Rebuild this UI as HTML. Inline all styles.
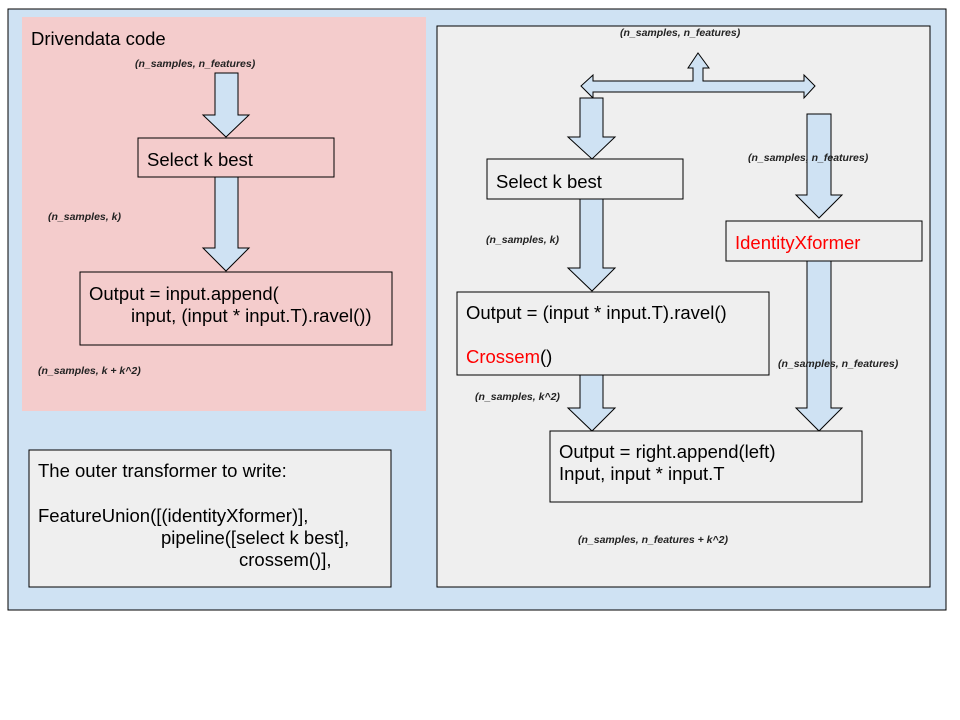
<!DOCTYPE html>
<html><head><style>body{margin:0;background:#fff}svg{display:block}text{font-family:"Liberation Sans",Arial,sans-serif}.s{font-size:10.5px;font-style:italic;font-weight:bold;fill:#222}.t{font-size:18.5px;fill:#000}</style></head><body>
<svg width="960" height="720" viewBox="0 0 960 720" xmlns="http://www.w3.org/2000/svg">
<rect x="8" y="9" width="938" height="601" fill="#cfe2f3" stroke="#000" stroke-width="1"/>
<rect x="22" y="17" width="404" height="394" fill="#f4cccc"/>
<rect x="437" y="26" width="493" height="561" fill="#efefef" stroke="#000"/>
<rect x="29" y="450" width="362" height="137" fill="#efefef" stroke="#000"/>
<g fill="#cfe2f3" stroke="#000" stroke-width="1">
<polygon points="215,73 238,73 238,115 249,115 226,137 203,115 215,115"/>
<polygon points="215,177 238,177 238,248 249,248 226,271 203,248 215,248"/>
<polygon points="693,81 693,68 688,68 698,53 709,68 703,68 703,81 804,81 804,75 815,86 804,98 804,92 593,92 593,98 581,86 593,75 593,81"/>
<polygon points="580,98 603,98 603,137 615,137 592,159 568,137 580,137"/>
<polygon points="580,199 603,199 603,268 615,268 592,291 568,268 580,268"/>
<polygon points="807,114 831,114 831,195 842,195 819,218 796,195 807,195"/>
<polygon points="807,261 831,261 831,408 842,408 819,431 796,408 807,408"/>
<polygon points="580,375 603,375 603,408 615,408 592,431 568,408 580,408"/>
</g>
<g fill="none" stroke="#000">
<rect x="138" y="138" width="196" height="39"/>
<rect x="80" y="272" width="312" height="73"/>
<rect x="487" y="159" width="196" height="40" fill="#efefef"/>
<rect x="457" y="292" width="312" height="83" fill="#efefef"/>
<rect x="726" y="221" width="196" height="40" fill="#efefef"/>
<rect x="550" y="431" width="312" height="71" fill="#efefef"/>
</g>
<text class="t" x="31" y="45">Drivendata code</text>
<text class="s" x="135" y="67">(n_samples, n_features)</text>
<text class="t" x="147" y="166">Select k best</text>
<text class="s" x="48" y="220">(n_samples, k)</text>
<text class="t" x="89" y="300">Output = input.append(</text>
<text class="t" x="131" y="322">input, (input * input.T).ravel())</text>
<text class="s" x="38" y="374">(n_samples, k + k^2)</text>
<text class="s" x="620" y="36">(n_samples, n_features)</text>
<text class="t" x="496" y="188">Select k best</text>
<text class="s" x="748" y="161">(n_samples, n_features)</text>
<text class="s" x="486" y="243">(n_samples, k)</text>
<text class="t" x="735" y="249" style="fill:#f00">IdentityXformer</text>
<text class="t" x="466" y="319">Output =  (input * input.T).ravel()</text>
<text class="t" x="466" y="363"><tspan style="fill:#f00">Crossem</tspan>()</text>
<text class="s" x="778" y="367">(n_samples, n_features)</text>
<text class="s" x="475" y="400">(n_samples, k^2)</text>
<text class="t" x="559" y="458">Output = right.append(left)</text>
<text class="t" x="559" y="480">Input, input * input.T</text>
<text class="s" x="578" y="543">(n_samples, n_features + k^2)</text>
<text class="t" x="38" y="477">The outer transformer to write:</text>
<text class="t" x="38" y="522">FeatureUnion([(identityXformer)],</text>
<text class="t" x="161" y="544">pipeline([select k best],</text>
<text class="t" x="239" y="566">crossem()],</text>
</svg>
</body></html>
